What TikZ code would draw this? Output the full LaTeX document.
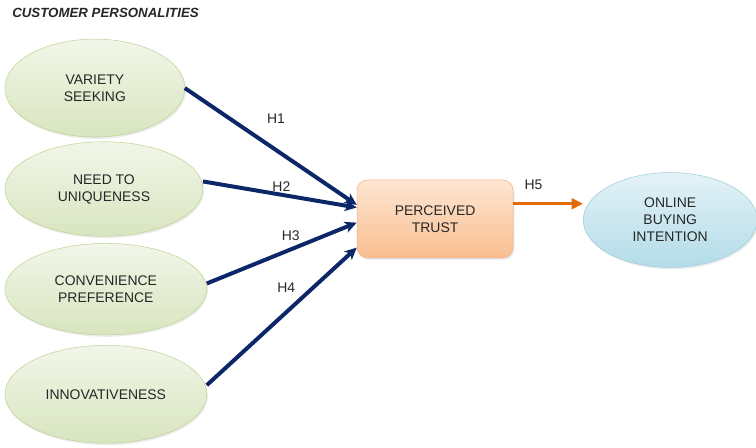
\documentclass[tikz,border=0pt]{standalone}
\usepackage{fontspec}
\setmainfont{Liberation Sans}
\usepackage{tikz}
\usetikzlibrary{shapes.geometric, arrows.meta, positioning, shadows}
\definecolor{navyline}{HTML}{0C2768}
\definecolor{orangeline}{HTML}{E36C09}
\definecolor{greentop}{HTML}{F2F6E9}
\definecolor{greenbot}{HTML}{D8E5BF}
\definecolor{greenedge}{HTML}{BFD396}
\definecolor{peachtop}{HTML}{FDE6D3}
\definecolor{peachbot}{HTML}{F9BE90}
\definecolor{peachedge}{HTML}{F4B183}
\definecolor{bluetop}{HTML}{E4F2F7}
\definecolor{bluebot}{HTML}{B3DCE8}
\definecolor{blueedge}{HTML}{9DCDDC}
\tikzstyle{trait} = [ellipse, inner sep=0pt, outer sep=0pt, text centered, align=center, draw=greenedge, top color=greentop, bottom color=greenbot, drop shadow={opacity=0.15, shadow xshift=0.03cm, shadow yshift=-0.05cm}]
\tikzstyle{mediator} = [rectangle, rounded corners=0.28cm, minimum width=4.13cm, minimum height=2.06cm, text centered, align=center, draw=peachedge, top color=peachtop, bottom color=peachbot, drop shadow={opacity=0.2, shadow xshift=0.03cm, shadow yshift=-0.05cm}]
\tikzstyle{outcome} = [ellipse, inner sep=0pt, minimum width=4.6cm, minimum height=2.51cm, text centered, align=center, draw=blueedge, top color=bluetop, bottom color=bluebot, drop shadow={opacity=0.15, shadow xshift=0.03cm, shadow yshift=-0.05cm}]
\tikzstyle{arrow} = [line width=3pt, draw=navyline, -{Stealth[length=9pt, width=8.5pt, inset=2.5pt]}]
\tikzstyle{orangearrow} = [line width=2.4pt, draw=orangeline, -{Stealth[length=8.5pt, width=8pt, inset=0pt]}]
\begin{document}
\begin{tikzpicture}[node distance=2.67cm, every node/.style={font=\fontsize{10.5}{12.75}\selectfont, text=black!85}]
\useasboundingbox (0,0) rectangle (20,-11.83);

\node (title) [anchor=west, font=\fontsize{10}{12}\selectfont\bfseries\itshape] at (0.2,-0.34) {CUSTOMER PERSONALITIES};

\node (variety) [trait, minimum width=4.76cm, minimum height=2.59cm] at (2.51,-2.33) {VARIETY\\SEEKING};
\node (need) [trait, minimum width=5.24cm, minimum height=2.5cm, below of=variety, xshift=0.24cm] {NEED TO\\UNIQUENESS};
\node (convenience) [trait, minimum width=5.34cm, minimum height=2.42cm, below of=need, xshift=0.05cm, yshift=0.02cm] {CONVENIENCE\\PREFERENCE};
\node (innov) [trait, minimum width=5.34cm, minimum height=2.59cm, below of=convenience, yshift=-0.11cm] {INNOVATIVENESS};

\node (trust) [mediator] at (11.51,-5.79) {PERCEIVED\\TRUST};
\node (online) [outcome] at (17.73,-5.82) {ONLINE\\BUYING\\INTENTION};

\coordinate (h5) at ([yshift=0.4cm]trust.east);

\draw [arrow] (variety.east) -- node[pos=0.53, yshift=0.82cm] {H1} ([yshift=0.37cm]trust.west);
\draw [arrow] ([yshift=0.2cm]need.east) -- node[pos=0.51, yshift=0.21cm] {H2} ([yshift=0.3cm]trust.west);
\draw [arrow] ([yshift=0.15cm]convenience.east) -- node[pos=0.56, yshift=0.37cm] {H3} ([yshift=-0.1cm]trust.west);
\draw [arrow] ([yshift=0.24cm]innov.east) -- node[pos=0.53, yshift=0.66cm] {H4} ([yshift=-0.76cm]trust.west);
\draw [orangearrow] (h5) -- node[pos=0.29, yshift=0.5cm] {H5} (h5 -| online.west);

\end{tikzpicture}
\end{document}
